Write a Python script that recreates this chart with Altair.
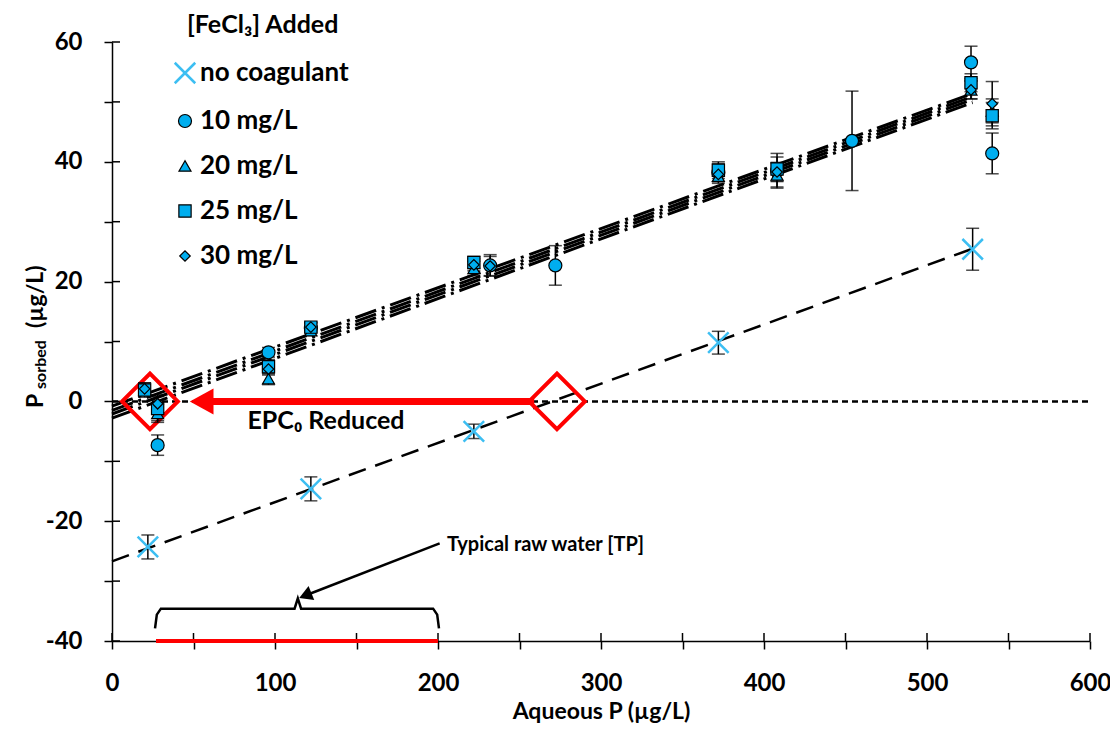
import altair as alt
import pandas as pd

FONT = "Lato"
BLUE = "#00AEEF"
XBLUE = "#3CBEF2"
RED = "#FF0000"

# ---------------- data ----------------
series = ["no coagulant", "10 mg/L", "20 mg/L", "25 mg/L", "30 mg/L"]

nc_x = [22, 122, 222, 372, 528]
nc_y = [-24.3, -14.6, -5.0, 9.8, 25.4]
nc_e = [2.0, 2.0, 1.2, 1.9, 3.5]

c10_x = [28, 96, 122, 232, 272, 372, 408, 454, 527, 540]
c10_y = [-7.3, 8.2, 12.2, 22.7, 22.7, 38.2, 38.5, 43.5, 56.6, 41.4]
c10_e = [1.7, 0.8, 0.8, 1.8, 3.3, 1.5, 2.9, 8.3, 2.7, 3.4]

c20_x = [28, 96, 122, 222, 372, 408, 527, 540]
c20_y = [-2.0, 3.8, 11.8, 22.2, 37.6, 37.8, 52.0, 48.5]
c20_e = [1.5, 1.0, 0.8, 1.2, 1.2, 2.0, 1.5, 2.0]

c25_x = [20, 28, 96, 122, 222, 372, 408, 527, 540]
c25_y = [1.9, -1.2, 5.8, 12.4, 23.2, 38.6, 38.8, 53.2, 47.7]
c25_e = [1.2, 2.0, 1.2, 0.8, 1.0, 1.4, 2.0, 1.5, 2.2]

c30_x = [20, 28, 96, 122, 222, 232, 372, 408, 527, 540]
c30_y = [2.1, -0.4, 5.4, 12.4, 22.8, 22.6, 37.9, 38.3, 52.0, 49.7]
c30_e = [1.0, 1.5, 1.0, 0.8, 1.0, 1.6, 1.2, 1.6, 1.5, 3.7]

# fitted lines (end points)
fit_series = ["10 mg/L", "10 mg/L", "20 mg/L", "20 mg/L", "25 mg/L", "25 mg/L", "30 mg/L", "30 mg/L"]
fit_x = [0, 528, 0, 528, 0, 528, 0, 528]
fit_y = [-2.8, 49.9, -2.1, 50.4, -1.5, 50.9, -0.8, 51.4]
nc_fit_x = [0, 528]
nc_fit_y = [-26.7, 25.5]

x_ticks = [0, 50, 100, 150, 200, 250, 300, 350, 400, 450, 500, 550, 600]
y_ticks = [-40, -30, -20, -10, 0, 10, 20, 30, 40, 50, 60]

epc_x = [23.3, 273]
arrow_x = [259, 60]
arrowhead_x = [55]
raw_range = [27, 200]
bracket_x = [26.4, 27.5, 30, 112, 114, 116, 197, 199.5, 200.6]
bracket_y = [-37.9, -35.6, -34.6, -34.6, -32.9, -34.6, -34.6, -35.6, -37.9]
black_arrow_x = [201, 118.6]
black_arrow_y = [-23.7, -32.4]

# ---------------- tables ----------------
rows = []
for name, xs_, ys_, es in [("no coagulant", nc_x, nc_y, nc_e), ("10 mg/L", c10_x, c10_y, c10_e),
                           ("20 mg/L", c20_x, c20_y, c20_e), ("25 mg/L", c25_x, c25_y, c25_e),
                           ("30 mg/L", c30_x, c30_y, c30_e)]:
    for a, b, e in zip(xs_, ys_, es):
        rows.append({"series": name, "x": a, "y": b, "lo": b - e, "hi": b + e})
pts = pd.DataFrame(rows)

fits = pd.DataFrame({"series": fit_series, "x": fit_x, "y": fit_y})
ncfit = pd.DataFrame({"x": nc_fit_x, "y": nc_fit_y})

xs = alt.Scale(domain=[0, 600], nice=False, zero=False)
ys = alt.Scale(domain=[-40, 60], nice=False, zero=False)

xaxis = alt.Axis(values=x_ticks, labelExpr="datum.value % 100 == 0 ? datum.label : ''",
                 tickSize=8, tickWidth=1.5, tickColor="black", domainColor="black", domainWidth=1.5,
                 labelFont=FONT, labelFontSize=24, labelFontWeight="bold", labelColor="black",
                 labelPadding=22, labelFlush=False, labelOverlap=False, grid=False,
                 title="Aqueous P (µg/L)", titleFont=FONT, titleFontSize=23, titleFontWeight="bold",
                 titleColor="black", titlePadding=5)
yaxis = alt.Axis(values=y_ticks, labelExpr="datum.value % 20 == 0 ? '' + datum.value : ''",
                 tickSize=8, tickWidth=1.5, tickColor="black", domainColor="black", domainWidth=1.5,
                 labelFont=FONT, labelFontSize=24, labelFontWeight="bold", labelColor="black",
                 labelPadding=22, labelFlush=False, labelOverlap=False, grid=False, title=None)

X = lambda f="x": alt.X(f"{f}:Q", scale=xs)
Y = lambda f="y": alt.Y(f"{f}:Q", scale=ys)

# zero line (carries the axes)
zero_df = pd.DataFrame({"x": [0], "x2": [600], "y": [0]})
zero_line = alt.Chart(zero_df).mark_rule(color="black", strokeWidth=2.5, strokeDash=[6, 4]).encode(
    x=alt.X("x:Q", scale=xs, axis=xaxis), x2="x2:Q", y=alt.Y("y:Q", scale=ys, axis=yaxis))

# inner halves of the crossing ticks
xt_df = pd.DataFrame({"x": x_ticks, "y": [-40] * len(x_ticks)})
x_inner = alt.Chart(xt_df).mark_rule(color="black", strokeWidth=1.5, y2Offset=-8).encode(
    x=X(), y=Y(), y2="y:Q")
yt_df = pd.DataFrame({"y": y_ticks, "x": [0] * len(y_ticks)})
y_inner = alt.Chart(yt_df).mark_rule(color="black", strokeWidth=1.5, x2Offset=8).encode(
    x=X(), x2="x:Q", y=Y())

fit_lines = alt.Chart(fits).mark_line(color="black", strokeWidth=3, strokeDash=[22, 6, 3, 6]).encode(
    x=X(), y=Y(), detail="series:N")
nc_line = alt.Chart(ncfit).mark_line(color="black", strokeWidth=2.5, strokeDash=[18, 10]).encode(x=X(), y=Y())

err_rule = alt.Chart(pts).mark_rule(color="black", strokeWidth=1.5).encode(x=X(), y=Y("lo"), y2="hi:Q")
err_lo = alt.Chart(pts).mark_tick(color="black", orient="horizontal", size=13, thickness=1.5).encode(x=X(), y=Y("lo"))
err_hi = alt.Chart(pts).mark_tick(color="black", orient="horizontal", size=13, thickness=1.5).encode(x=X(), y=Y("hi"))

leg = alt.Legend(title=None, orient="none", legendX=60, legendY=18, direction="vertical",
                 labelFont=FONT, labelFontSize=26, labelFontWeight="bold", labelColor="black",
                 rowPadding=19, labelOffset=2, padding=0)
shapes = ["M-1,-1L1,1M-1,1L1,-1", "circle", "triangle-up", "square", "diamond"]
points = alt.Chart(pts).mark_point(filled=True, opacity=1).encode(
    x=X(), y=Y(),
    shape=alt.Shape("series:N", scale=alt.Scale(domain=series, range=shapes), legend=leg),
    fill=alt.Fill("series:N", scale=alt.Scale(domain=series, range=["transparent", BLUE, BLUE, BLUE, BLUE]), legend=leg),
    stroke=alt.Stroke("series:N", scale=alt.Scale(domain=series, range=[XBLUE, "black", "black", "black", "black"]), legend=leg),
    size=alt.Size("series:N", scale=alt.Scale(type="ordinal", domain=series, range=[420, 169, 144, 150, 110]), legend=leg),
    strokeWidth=alt.StrokeWidth("series:N", scale=alt.Scale(type="ordinal", domain=series, range=[2.5, 1.2, 1.2, 1.2, 1.2]), legend=leg),
)

# red annotations
raw_df = pd.DataFrame({"x": [raw_range[0]], "x2": [raw_range[1]], "y": [-40]})
raw_bar = alt.Chart(raw_df).mark_rule(color=RED, strokeWidth=4).encode(x=X(), x2="x2:Q", y=Y())

arr_df = pd.DataFrame({"x": [arrow_x[0]], "x2": [arrow_x[1]], "y": [0]})
red_shaft = alt.Chart(arr_df).mark_rule(color=RED, strokeWidth=7).encode(x=X(), x2="x2:Q", y=Y())
head_df = pd.DataFrame({"x": arrowhead_x, "y": [0]})
red_head = alt.Chart(head_df).mark_point(shape="M-1,0L1,-1.1L1,1.1Z", filled=True, color=RED, opacity=1, size=560).encode(x=X(), y=Y())

dia_df = pd.DataFrame({"x": epc_x, "y": [0, 0]})
diamonds = alt.Chart(dia_df).mark_point(shape="M-1,0L0,-1L1,0L0,1Z", filled=False, color=RED, opacity=1,
                                         strokeWidth=4, size=3100).encode(x=X(), y=Y())

# bracket and black arrow
br_df = pd.DataFrame({"x": bracket_x, "y": bracket_y, "o": list(range(len(bracket_x)))})
bracket = alt.Chart(br_df).mark_line(color="black", strokeWidth=2.5).encode(x=X(), y=Y(), order="o:Q")
ba_df = pd.DataFrame({"x": black_arrow_x, "y": black_arrow_y})
black_shaft = alt.Chart(ba_df).mark_line(color="black", strokeWidth=2.5).encode(x=X(), y=Y())
bh_df = pd.DataFrame({"x": [black_arrow_x[1]], "y": [black_arrow_y[1]]})
black_head = alt.Chart(bh_df).mark_point(shape="triangle-up", filled=True, color="black", opacity=1,
                                          size=230, angle=248).encode(x=X(), y=Y())

# texts
t1 = pd.DataFrame({"x": [131.3], "y": [-3.2], "t": ["EPC₀ Reduced"]})
epc_text = alt.Chart(t1).mark_text(font=FONT, fontSize=25, fontWeight="bold", color="black",
                                   align="center", baseline="middle").encode(x=X(), y=Y(), text="t:N")
t2 = pd.DataFrame({"x": [205.5], "y": [-23.9], "t": ["Typical raw water [TP]"]})
raw_text = alt.Chart(t2).mark_text(font=FONT, fontSize=20, fontWeight="bold", color="black",
                                   align="left", baseline="middle").encode(x=X(), y=Y(), text="t:N")

lt = pd.DataFrame({"t": ["[FeCl₃] Added"]})
leg_title = alt.Chart(lt).mark_text(font=FONT, fontSize=25, fontWeight="bold", color="black",
                                    align="left", baseline="middle").encode(
    x=alt.value(75), y=alt.value(-17), text="t:N")

# y-axis title with subscript
yt1 = alt.Chart(pd.DataFrame({"t": ["P"]})).mark_text(font=FONT, fontSize=23, fontWeight="bold", color="black",
                                                      align="left", baseline="middle", angle=270).encode(
    x=alt.value(-76), y=alt.value(366), text="t:N")
yt2 = alt.Chart(pd.DataFrame({"t": ["sorbed"]})).mark_text(font=FONT, fontSize=16, fontWeight="bold", color="black",
                                                           align="left", baseline="middle", angle=270).encode(
    x=alt.value(-71), y=alt.value(347), text="t:N")
yt3 = alt.Chart(pd.DataFrame({"t": ["(µg/L)"]})).mark_text(font=FONT, fontSize=23, fontWeight="bold", color="black",
                                                           align="left", baseline="middle", angle=270).encode(
    x=alt.value(-76), y=alt.value(286), text="t:N")

chart = alt.layer(
    zero_line, x_inner, y_inner, fit_lines, nc_line, raw_bar, red_shaft, red_head, diamonds,
    bracket, black_shaft, black_head, err_rule, err_lo, err_hi, points,
    epc_text, raw_text, leg_title, yt1, yt2, yt3,
).properties(
    width=978, height=599,
    autosize=alt.AutoSizeParams(type="none"),
    padding={"left": 104, "top": 34, "right": 20, "bottom": 89},
).configure_view(stroke=None)

chart.save("out.html", embed_options={"renderer": "svg", "actions": False})
